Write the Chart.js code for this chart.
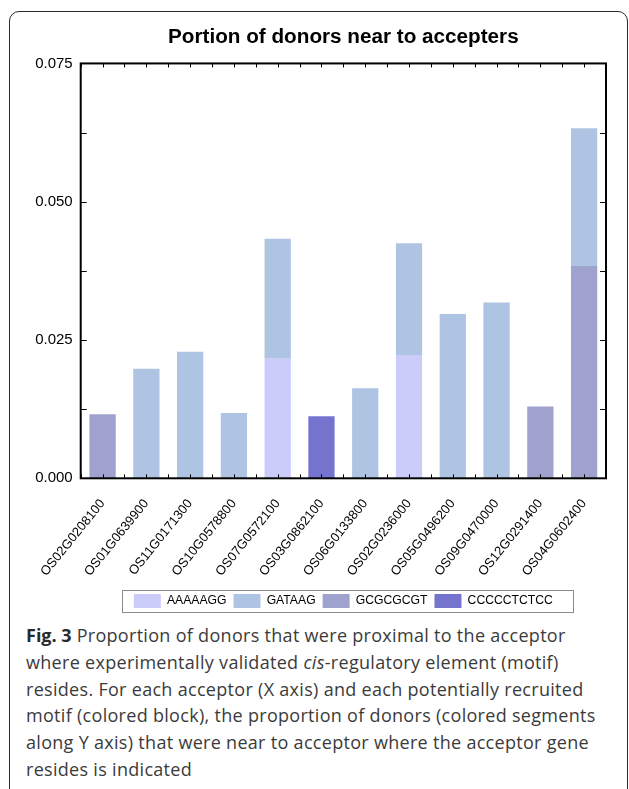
<!DOCTYPE html>
<html>
<head>
<meta charset="utf-8">
<script src="https://cdn.jsdelivr.net/npm/chart.js@4.4.0/dist/chart.umd.min.js"></script>
<style>
  html, body { margin: 0; padding: 0; background: #fff; width: 629px; height: 789px; overflow: hidden; }
  #box { position: absolute; left: 9px; top: 11px; width: 619px; height: 790px; border: 1.5px solid #2a2a2a; border-radius: 10px; box-sizing: border-box; }
  #wrap { position: absolute; left: 0; top: 0; width: 629px; height: 620px; }
  #caption { position: absolute; left: 26px; top: 622px; font-family: 'Open Sans', sans-serif; font-size: 18px; letter-spacing: 0.3px; line-height: 26.8px; color: #3b3b3b; white-space: nowrap; }
  #caption b { color: #2a2a2a; letter-spacing: 0; }
</style>
</head>
<body>
<div id="box"></div>
<div id="wrap"><canvas id="bar" width="629" height="620"></canvas></div>
<div id="caption">
  <b>Fig. 3</b> Proportion of donors that were proximal to the acceptor<br>
  where experimentally validated <i>cis</i>-regulatory element (motif)<br>
  resides. For each acceptor (X axis) and each potentially recruited<br>
  motif (colored block), the proportion of donors (colored segments<br>
  along Y axis) that were near to acceptor where the acceptor gene<br>
  resides is indicated
</div>
<script>
const acceptors = ['OS02G0208100', 'OS01G0639900', 'OS11G0171300', 'OS10G0578800', 'OS07G0572100', 'OS03G0862100',
  'OS06G0133800', 'OS02G0236000', 'OS05G0496200', 'OS09G0470000', 'OS12G0291400', 'OS04G0602400'];

// legend order
const motifs = ['AAAAAGG', 'GATAAG', 'GCGCGCGT', 'CCCCCTCTCC'];

const aaaaagg    = [0, 0, 0, 0, 0.0216, 0, 0, 0.0223, 0, 0, 0, 0];
const gataag     = [0, 0.0198, 0.0229, 0.0118, 0.0217, 0, 0.0163, 0.0202, 0.0297, 0.0318, 0, 0.0249];
const gcgcgcgt   = [0.0116, 0, 0, 0, 0, 0, 0, 0, 0, 0, 0.0130, 0.0384];
const ccccctctcc = [0, 0, 0, 0, 0, 0.0112, 0, 0, 0, 0, 0, 0];

const yMax = 0.075;
const yStep = 0.0125;
const yLabelStep = 0.025;

const arial = "'Liberation Sans', Arial, sans-serif";

// frame round the plot, with ticks pointing inwards
const framePlugin = {
  id: 'frame',
  afterDatasetsDraw(chart) {
    const {ctx, chartArea: a, scales: {x, y}} = chart;
    ctx.save();
    ctx.strokeStyle = '#000';
    ctx.lineWidth = 1;
    ctx.beginPath();
    y.ticks.forEach(t => {
      const py = Math.round(y.getPixelForValue(t.value)) + 0.5;
      ctx.moveTo(a.left, py); ctx.lineTo(a.left + 6, py);
      ctx.moveTo(a.right, py); ctx.lineTo(a.right - 6, py);
    });
    for (let i = 0; i <= acceptors.length * 2; i++) {
      const px = Math.round(x.getPixelForValue(i / 2 - 0.5)) + 0.5;
      ctx.moveTo(px, a.bottom); ctx.lineTo(px, a.bottom - 4);
      ctx.moveTo(px, a.top); ctx.lineTo(px, a.top + 4);
    }
    ctx.stroke();
    ctx.lineWidth = 2;
    ctx.strokeRect(a.left, a.top, a.right - a.left, a.bottom - a.top);
    ctx.restore();
  }
};

// grey box round the legend
const legendBoxPlugin = {
  id: 'legendBox',
  afterDraw(chart) {
    const boxes = chart.legend.legendHitBoxes;
    if (!boxes || !boxes.length) return;
    const first = boxes[0], last = boxes[boxes.length - 1];
    const ctx = chart.ctx;
    ctx.save();
    ctx.strokeStyle = '#8a8a8a';
    ctx.lineWidth = 1;
    const l = Math.round(first.left - 12) + 0.5;
    const r = Math.round(last.left + last.width + 20) + 0.5;
    const t = Math.round(first.top - 4) + 0.5;
    const b = Math.round(first.top + first.height + 4) + 0.5;
    ctx.strokeRect(l, t, r - l, b - t);
    ctx.restore();
  }
};

(function () {
  const datasets = [
    { label: 'AAAAAGG', data: aaaaagg, backgroundColor: '#CCCCFB' },
    { label: 'GCGCGCGT', data: gcgcgcgt, backgroundColor: '#A0A2CE' },
    { label: 'CCCCCTCTCC', data: ccccctctcc, backgroundColor: '#7474CE' },
    { label: 'GATAAG', data: gataag, backgroundColor: '#AFC4E2' },
  ];

  const bar_config = {
    type: 'bar',
    data: { labels: acceptors, datasets: datasets },
    options: {
      responsive: false,
      animation: false,
      layout: { padding: { left: 0, right: 23, top: 0, bottom: 2 } },
      datasets: { bar: { categoryPercentage: 1, barPercentage: 0.6, borderWidth: 0 } },
      plugins: {
        title: {
          display: true,
          text: 'Portion of donors near to accepters',
          fullSize: false,
          color: '#000',
          font: { family: arial, size: 20.7, weight: 'bold', lineHeight: 1.2 },
          padding: { top: 24.6, bottom: 14 },
        },
        legend: {
          position: 'bottom',
          fullSize: false,
          labels: {
            color: '#000',
            font: { family: arial, size: 12.2 },
            boxWidth: 27,
            boxHeight: 14,
            padding: 7,
            sort: (a, b) => motifs.indexOf(a.text) - motifs.indexOf(b.text),
          },
        },
        tooltip: { enabled: false },
      },
      scales: {
        x: {
          stacked: true,
          grid: { display: false, drawTicks: false },
          border: { display: false },
          afterFit: s => { s.height = 108.7; },
          ticks: {
            color: '#000',
            font: { family: arial, size: 13 },
            minRotation: 51,
            maxRotation: 51,
            padding: 18,
            autoSkip: false,
          },
        },
        y: {
          stacked: true,
          min: 0,
          max: yMax,
          grid: { display: false, drawTicks: false },
          border: { display: false },
          afterFit: s => { s.width = 80.7; },
          ticks: {
            stepSize: yStep,
            color: '#000',
            padding: 8,
            font: { family: arial, size: 15 },
            callback: v => {
              const k = v / yLabelStep;
              return Math.abs(k - Math.round(k)) < 1e-6 ? v.toFixed(3) : '';
            },
          },
        },
      },
    },
    plugins: [framePlugin, legendBoxPlugin],
  };

  new Chart(document.getElementById('bar'), bar_config);
})();
</script>
</body>
</html>
